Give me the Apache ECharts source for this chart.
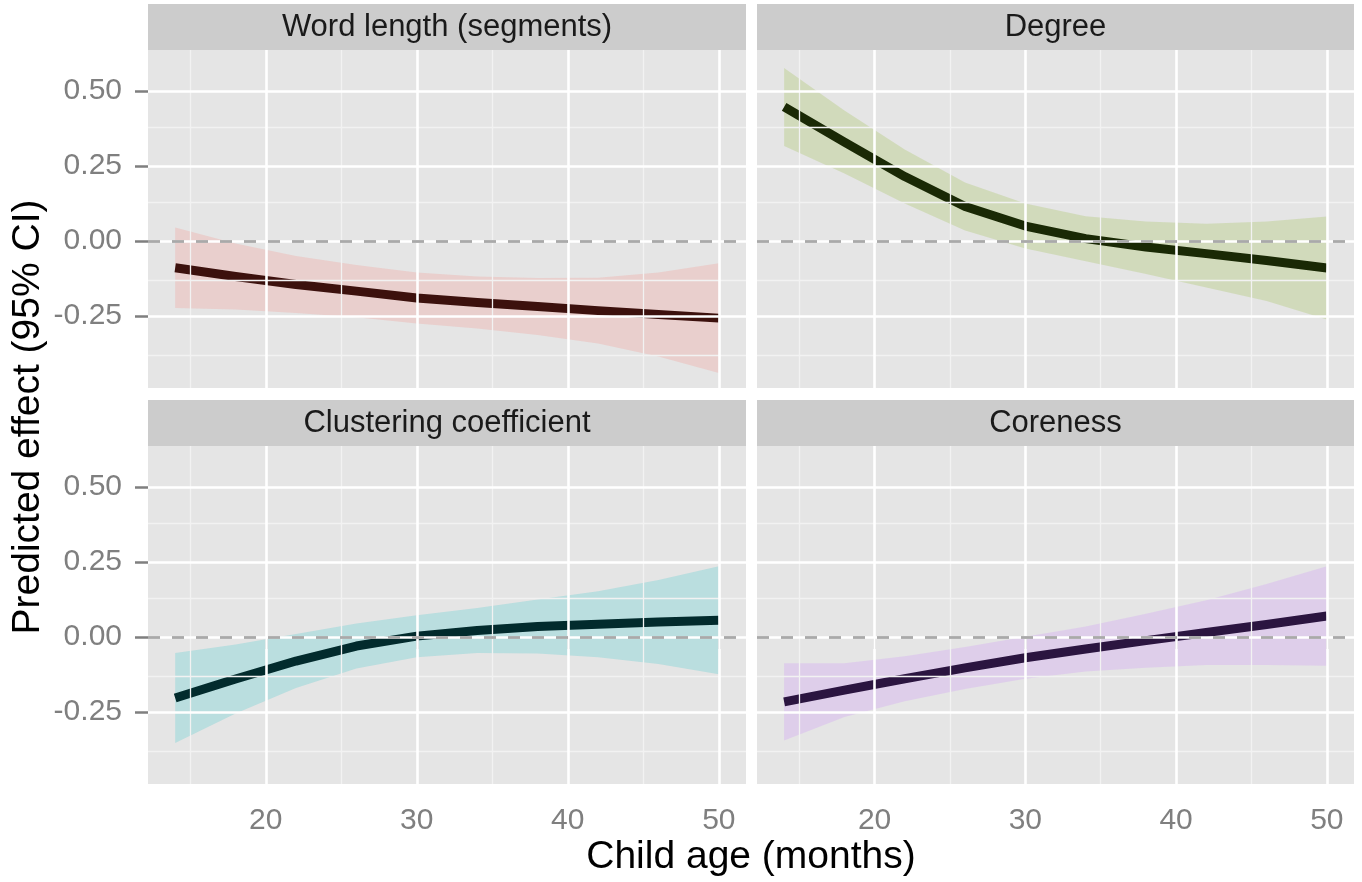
<!DOCTYPE html>
<html><head><meta charset="utf-8">
<script src="https://cdn.jsdelivr.net/npm/echarts@6/dist/echarts.min.js"></script>
<style>html,body{margin:0;padding:0;background:#fff}#c{width:1362px;height:882px}</style>
</head><body><div id="c"></div>
<script>
// ---- data ----
const panelTitles = ['Word length (segments)', 'Degree', 'Clustering coefficient', 'Coreness'];
const ageMonths = [14, 18, 22, 26, 30, 34, 38, 42, 46, 50];

const wordLenFit   = [-0.089, -0.118, -0.145, -0.167, -0.190, -0.205, -0.218, -0.232, -0.245, -0.257];
const wordLenUpper = [ 0.045, -0.008, -0.050, -0.080, -0.105, -0.118, -0.123, -0.122, -0.105, -0.074];
const wordLenLower = [-0.223, -0.228, -0.240, -0.254, -0.275, -0.292, -0.313, -0.342, -0.385, -0.440];

const degreeFit   = [0.447, 0.330, 0.215, 0.115, 0.050, 0.008, -0.020, -0.042, -0.065, -0.090];
const degreeUpper = [0.577, 0.435, 0.305, 0.195, 0.125, 0.083,  0.065,  0.058,  0.065,  0.082];
const degreeLower = [0.317, 0.225, 0.125, 0.035, -0.025, -0.067, -0.110, -0.155, -0.200, -0.262];

const clusterFit   = [-0.203, -0.140, -0.080, -0.030, 0.003, 0.022, 0.035, 0.043, 0.050, 0.056];
const clusterUpper = [-0.053, -0.025,  0.010,  0.045, 0.073, 0.097, 0.125, 0.153, 0.190, 0.236];
const clusterLower = [-0.353, -0.255, -0.170, -0.105, -0.067, -0.053, -0.055, -0.067, -0.090, -0.124];

const coreFit   = [-0.216, -0.177, -0.139, -0.103, -0.069, -0.040, -0.012, 0.015, 0.042, 0.070];
const coreUpper = [-0.087, -0.087, -0.064, -0.033,  0.001,  0.035,  0.078, 0.123, 0.177, 0.236];
const coreLower = [-0.345, -0.267, -0.214, -0.173, -0.139, -0.115, -0.102, -0.093, -0.093, -0.096];

const xMajorTicks = [20, 30, 40, 50];
const xMinorTicks = [15, 25, 35, 45];
const yMajorTicks = [-0.25, 0, 0.25, 0.5];
const yMinorTicks = [-0.375, -0.125, 0.125, 0.375];
const xRange = [12.2, 51.8];
const yRange = [-0.49, 0.637];

// ---- styling ----
const FONT = '"Liberation Sans", Arial, Helvetica, sans-serif';
const bandColors = ['rgba(248,118,109,0.2)', 'rgba(124,174,0,0.18)', 'rgba(0,191,196,0.19)', 'rgba(199,124,255,0.21)'];
const lineColors = ['#3c110d', '#1a2905', '#022b2d', '#2b1540'];
const panels = [
  {fit: wordLenFit, up: wordLenUpper, lo: wordLenLower},
  {fit: degreeFit, up: degreeUpper, lo: degreeLower},
  {fit: clusterFit, up: clusterUpper, lo: clusterLower},
  {fit: coreFit, up: coreUpper, lo: coreLower}
];
const grids = [
  {left: 148, top: 50, width: 598, height: 338},
  {left: 757, top: 50, width: 597, height: 338},
  {left: 148, top: 446, width: 598, height: 338},
  {left: 757, top: 446, width: 597, height: 338}
];
const stripH = 46;

const chart = echarts.init(document.getElementById('c'), null, {renderer: 'canvas'});

const gridOpts = grids.map(g => Object.assign({}, g, {
  show: true, backgroundColor: '#e5e5e5', borderWidth: 0, containLabel: false, outerBoundsMode: 'none'
}));

const xAxes = grids.map((g, i) => {
  const bottom = i >= 2;
  return {
    type: 'value', gridIndex: i, min: xRange[0], max: xRange[1],
    axisLine: {show: false},
    axisTick: {show: bottom, customValues: xMajorTicks, length: 12, lineStyle: {color: '#7f7f7f', width: 2.5}},
    axisLabel: {show: bottom, customValues: xMajorTicks, margin: 22, color: '#7f7f7f',
      fontFamily: FONT, fontSize: 30},
    splitLine: {show: false}, minorSplitLine: {show: false}
  };
});
const yAxes = grids.map((g, i) => {
  const left = i % 2 === 0;
  return {
    type: 'value', gridIndex: i, min: yRange[0], max: yRange[1],
    axisLine: {show: false},
    axisTick: {show: left, customValues: yMajorTicks, length: 13, lineStyle: {color: '#7f7f7f', width: 2.5}},
    axisLabel: {show: left, customValues: yMajorTicks, margin: 26, color: '#7f7f7f',
      fontFamily: FONT, fontSize: 30, formatter: v => v.toFixed(2)},
    splitLine: {show: false}, minorSplitLine: {show: false}
  };
});

const series = [];
panels.forEach((p, i) => {
  // gridlines
  series.push({
    type: 'line', xAxisIndex: i, yAxisIndex: i, data: [], z: 1, silent: true, animation: false,
    markLine: {
      silent: true, symbol: ['none', 'none'], label: {show: false}, animation: false,
      emphasis: {disabled: true},
      data: [
        ...xMinorTicks.map(v => ({xAxis: v, lineStyle: {color: '#f2f2f2', width: 1.3, type: 'solid'}})),
        ...yMinorTicks.map(v => ({yAxis: v, lineStyle: {color: '#f2f2f2', width: 1.3, type: 'solid'}})),
        ...xMajorTicks.map(v => ({xAxis: v, lineStyle: {color: '#ffffff', width: 2.6, type: 'solid'}})),
        ...yMajorTicks.map(v => ({yAxis: v, lineStyle: {color: '#ffffff', width: 2.6, type: 'solid'}})),
        {yAxis: 0, lineStyle: {color: '#a9a9a9', width: 2.8, type: [12, 12]}}
      ]
    }
  });
  // confidence band
  series.push({
    type: 'custom', xAxisIndex: i, yAxisIndex: i, z: 2, silent: true, animation: false,
    data: ageMonths.map((x, j) => [x, p.lo[j], p.up[j]]),
    encode: {x: 0, y: [1, 2]},
    renderItem: (params, api) => {
      if (params.dataIndex !== 0) return null;
      const pts = [];
      for (let j = 0; j < ageMonths.length; j++) pts.push(api.coord([ageMonths[j], p.up[j]]));
      for (let j = ageMonths.length - 1; j >= 0; j--) pts.push(api.coord([ageMonths[j], p.lo[j]]));
      return {type: 'polygon', shape: {points: pts}, style: {fill: bandColors[i]}};
    }
  });
  // fitted line
  series.push({
    type: 'line', xAxisIndex: i, yAxisIndex: i, z: 3, silent: true, animation: false,
    data: ageMonths.map((x, j) => [x, p.fit[j]]),
    showSymbol: false, symbol: 'none',
    lineStyle: {color: lineColors[i], width: 9, cap: 'butt', join: 'round'}
  });
});

const graphics = [];
grids.forEach((g, i) => {
  graphics.push({
    type: 'rect', silent: true,
    shape: {x: g.left, y: g.top - stripH, width: g.width, height: stripH},
    style: {fill: '#cccccc'}
  });
  graphics.push({
    type: 'text', silent: true,
    x: g.left + g.width / 2, y: g.top - stripH / 2,
    style: {text: panelTitles[i], fill: '#1a1a1a', font: '31px ' + FONT,
      textAlign: 'center', textVerticalAlign: 'middle'}
  });
});
graphics.push({
  type: 'text', silent: true, x: 751, y: 857,
  style: {text: 'Child age (months)', fill: '#000', font: '39px ' + FONT,
    textAlign: 'center', textVerticalAlign: 'middle'}
});
graphics.push({
  type: 'text', silent: true, x: 28, y: 417, rotation: Math.PI / 2,
  style: {text: 'Predicted effect (95% CI)', fill: '#000', font: '39px ' + FONT,
    textAlign: 'center', textVerticalAlign: 'middle'}
});

chart.setOption({
  animation: false,
  backgroundColor: '#ffffff',
  grid: gridOpts,
  xAxis: xAxes,
  yAxis: yAxes,
  series: series,
  graphic: graphics
});
</script>
</body></html>
